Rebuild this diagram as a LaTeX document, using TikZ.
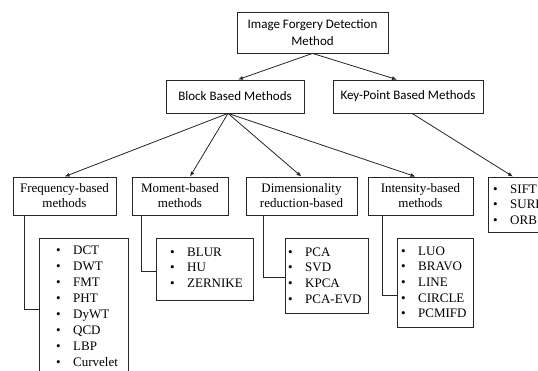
\documentclass[tikz,border=0pt]{standalone}
\usepackage{fontspec}
\setmainfont{Liberation Serif}
\newfontfamily\calfont{Carlito}
\usetikzlibrary{arrows.meta,calc}
\begin{document}
\begin{tikzpicture}[x=1pt,y=-1pt,
  box/.style={draw=black!85,line width=0.8pt,inner sep=0pt,fill=white},
  topbox/.style={box,font=\calfont\fontsize{13}{17}\selectfont,align=center},
  catbox/.style={box,font=\fontsize{13}{15}\selectfont,align=center},
  item/.style={anchor=base west,inner sep=0pt,font=\fontsize{13}{15}\selectfont},
  arr/.style={draw=black!85,line width=0.8pt,-{Latex[length=5pt,width=4pt]}},
  conn/.style={draw=black!85,line width=0.8pt}]
\useasboundingbox (0,0) rectangle (538,371);
\clip (0,0) rectangle (538,371);
\fill[white] (0,0) rectangle (538,371);
% level 0/1
\node[topbox,minimum width=151pt,minimum height=41pt] (top) at (312.5,32.5) {Image Forgery Detection\\Method};
\node[topbox,minimum width=138pt,minimum height=33pt] (block) at (235,96.5) {Block Based Methods};
\node[topbox,minimum width=150pt,minimum height=33pt] (key) at (408,96.5) {Key-Point Based Methods};
% categories
\node[catbox,minimum width=103pt,minimum height=38pt] (freq) at (64.5,196) {Frequency-based\\methods};
\node[catbox,minimum width=96pt,minimum height=38pt] (mom) at (180,196) {Moment-based\\methods};
\node[catbox,minimum width=111pt,minimum height=38pt] (dim) at (301.5,196) {Dimensionality\\reduction-based};
\node[catbox,minimum width=105pt,minimum height=38pt] (inten) at (420.5,196) {Intensity-based\\methods};
% list boxes
\node[box,minimum width=89pt,minimum height=147pt] (freqlist) at (83.5,311.5) {};
\node[box,minimum width=97pt,minimum height=62pt] (momlist) at (204.5,269) {};
\node[box,minimum width=83pt,minimum height=75pt] (dimlist) at (326.5,275.5) {};
\node[box,minimum width=76pt,minimum height=89pt] (intlist) at (435,282.5) {};
\node[box,minimum width=62pt,minimum height=55pt] (sift) at (519,204.5) {};
% items
\foreach \t [count=\i] in {DCT,DWT,FMT,PHT,DyWT,QCD,LBP,Curvelet}
  \node[item] (fi\i) at (56,{254.5+16*(\i-1)}) {\makebox[17pt][l]{•}\t};
\foreach \t [count=\i] in {BLUR,HU,ZERNIKE}
  \node[item] (mi\i) at (170,{256.5+15.5*(\i-1)}) {\makebox[17pt][l]{•}\t};
\foreach \t [count=\i] in {PCA,SVD,KPCA,PCA-EVD}
  \node[item] (di\i) at (288,{256.5+15.5*(\i-1)}) {\makebox[17pt][l]{•}\t};
\foreach \t [count=\i] in {LUO,BRAVO,LINE,CIRCLE,PCMIFD}
  \node[item] (ii\i) at (401,{255.5+15.5*(\i-1)}) {\makebox[17pt][l]{•}\t};
\foreach \t [count=\i] in {SIFT,SURF,ORB}
  \node[item] (si\i) at (493,{193.5+15.5*(\i-1)}) {\makebox[17pt][l]{•}\t};
% arrows
\draw[arr] (top.south) -- ($(block.north)+(3,0)$);
\draw[arr] (top.south) -- ($(key.north)+(-11,0)$);
\draw[arr] ($(block.south)+(-7,0)$) -- (freq.north);
\draw[arr] ($(block.south)+(-7,0)$) -- ($(mom.north)+(10,0)$);
\draw[arr] ($(block.south)+(-7,0)$) -- (dim.north);
\draw[arr] ($(block.south)+(-7,0)$) -- ($(inten.north)+(-5,0)$);
\draw[arr] ($(key.south)+(4,0)$) -- ($(sift.north)+(-6,0)$);
% connectors
\draw[conn] ($(freq.south west)+(12,0)$) |- ($(freqlist.north west)+(0,72)$);
\draw[conn] ($(mom.south west)+(10,0)$) |- ($(momlist.north west)+(0,34)$);
\draw[conn] ($(dim.south west)+(18,0)$) |- ($(dimlist.north west)+(0,40)$);
\draw[conn] ($(inten.south west)+(15,0)$) |- ($(intlist.north west)+(0,58)$);
\end{tikzpicture}
\end{document}
